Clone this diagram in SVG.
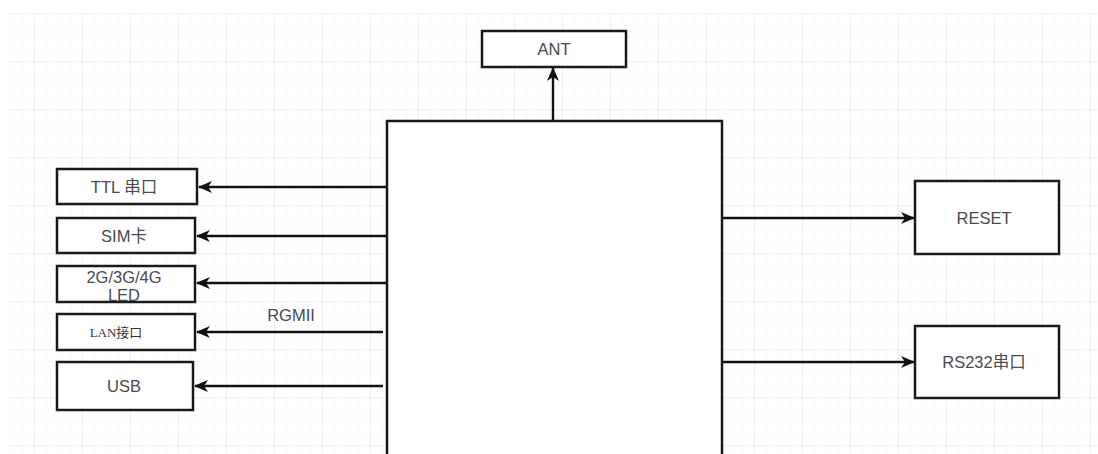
<svg xmlns="http://www.w3.org/2000/svg" width="1098" height="454" viewBox="0 0 1098 454">
<style>
.box{fill:#fff;stroke:#1a1a1a;stroke-width:2.5}
.lbl{font-family:"Liberation Sans","Noto Sans CJK SC",Arial,sans-serif;font-size:16.5px;fill:#4a4a4a;text-anchor:middle;dominant-baseline:central}
.ser{font-family:"Liberation Serif","Noto Sans CJK SC",serif;font-size:13px;fill:#333;text-anchor:middle;dominant-baseline:central}
.conn{stroke:#111;stroke-width:2.4;fill:none}
</style>
<defs>
<pattern id="minor" width="12" height="12" patternUnits="userSpaceOnUse" patternTransform="translate(34,13)">
<path d="M0 0V12M0 0H12" stroke="#f3f3f3" stroke-width="1" fill="none"/>
</pattern>
<pattern id="major" width="48" height="48" patternUnits="userSpaceOnUse" patternTransform="translate(34,13)">
<path d="M0 0V48M0 0H48" stroke="#e6e6e6" stroke-width="1" fill="none"/>
</pattern>
<marker id="arr" viewBox="0 0 14 14" refX="13" refY="7" markerWidth="14" markerHeight="14" markerUnits="userSpaceOnUse" orient="auto">
<path d="M0 1L14 7L0 13L4 7Z" fill="#111"/>
</marker>
</defs>
<rect width="1098" height="454" fill="#fff"/>
<rect x="10" y="13" width="1088" height="441" fill="url(#minor)"/>
<rect x="10" y="13" width="1088" height="441" fill="url(#major)"/>

<g id="main"><rect class="box" x="387" y="121" width="335" height="345"/></g>

<g id="ant"><rect class="box" x="482" y="31" width="144" height="36"/><text class="lbl" x="554" y="49">ANT</text></g>

<g id="ttl"><rect class="box" x="57" y="169" width="140" height="35"/><text class="lbl" x="124" y="187">TTL 串口</text></g>
<g id="sim"><rect class="box" x="57" y="218" width="138" height="35"/><text class="lbl" x="124" y="236">SIM卡</text></g>
<g id="led"><rect class="box" x="57" y="266" width="138" height="36"/><text class="lbl" x="124" y="277">2G/3G/4G</text><text class="lbl" x="124" y="295">LED</text></g>
<g id="lan"><rect class="box" x="57" y="314" width="138" height="36"/><text class="ser" x="116" y="332">LAN接口</text></g>
<g id="usb"><rect class="box" x="57" y="362" width="136" height="48"/><text class="lbl" x="124" y="386">USB</text></g>

<g id="reset"><rect class="box" x="915" y="181" width="144" height="73"/><text class="lbl" x="984" y="218">RESET</text></g>
<g id="rs232"><rect class="box" x="915" y="326" width="144" height="72"/><text class="lbl" x="984" y="362">RS232串口</text></g>

<g id="connectors">
<line class="conn" x1="553" y1="121" x2="553" y2="68" marker-end="url(#arr)"/>
<line class="conn" x1="387" y1="187" x2="199" y2="187" marker-end="url(#arr)"/>
<line class="conn" x1="387" y1="236" x2="197" y2="236" marker-end="url(#arr)"/>
<line class="conn" x1="387" y1="283" x2="197" y2="283" marker-end="url(#arr)"/>
<line class="conn" x1="383" y1="332" x2="197" y2="332" marker-end="url(#arr)"/>
<line class="conn" x1="383" y1="386" x2="195" y2="386" marker-end="url(#arr)"/>
<line class="conn" x1="722" y1="218" x2="914" y2="218" marker-end="url(#arr)"/>
<line class="conn" x1="722" y1="362" x2="914" y2="362" marker-end="url(#arr)"/>
<text class="lbl" x="291" y="315">RGMII</text>
</g>
</svg>
